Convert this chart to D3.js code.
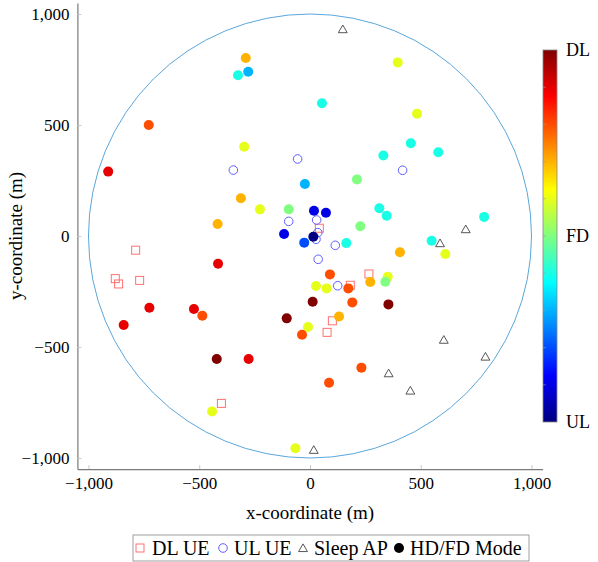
<!DOCTYPE html>
<html>
<head>
<meta charset="utf-8">
<script src="https://cdn.jsdelivr.net/npm/d3@7"></script>
<style>
  body { margin: 0; background: #fff; }
  svg, svg text { font-family: "Liberation Serif", "Times New Roman", serif; fill: #000; }
</style>
</head>
<body>
<div class="container"></div>
<script>
// HD/FD mode APs: x, y (m) and mode value (-1 = UL, 0 = FD, 1 = DL)
const hdX = [-290, -325, -279, -728, -911, -297, -23, -312, -226, -96, -417, -117,
  396, 54, 483, 455, 331, 579, 212, 18, 72, 313, 346, 227, 786, 15, -26, 164, 406, 549, 611,
  90, 351, 272, 340, 27, 75, 173, 12, 191, 354, 131, -9, -36, 232, 86,
  -415, -725, -841, -524, -486, -105, -421, -277, -442, -66]
const hdY = [802, 724, 740, 500, 290, 402, 234, 170, 120, 120, 54, 9,
  782, 598, 551, 418, 363, 377, 255, 114, 105, 125, 91, 44, 86, -3, -30, -32, -73, -21, -81,
  -173, -183, -207, -206, -225, -236, -236, -296, -299, -308, -363, -410, -445, -593, -661,
  -125, -323, -401, -329, -359, -371, -554, -554, -790, -956]
const hdMode = [0.4, -0.2, -0.4, 0.6, 0.8, 0.2, -0.4, 0.4, 0.2, 0, 0.4, -0.8,
  0.2, -0.2, 0.2, -0.2, -0.2, -0.2, 0, -0.8, -0.8, -0.2, -0.2, 0, -0.2, -1, -0.6, -0.2, 0.4, -0.2, 0.2,
  0.6, 0.2, 0.4, 0, 0.2, 0.2, 0.6, 1, 0.6, 1, 0.4, 0.2, 0.6, 0.6, 0.6,
  0.8, 0.8, 0.8, 0.8, 0.6, 1, 1, 0.8, 0.2, 0.2]

// DL users
const dlX = [42, 266, 182, 101, 77, -787, -879, -864, -769, -400]
const dlY = [35, -171, -222, -382, -434, -64, -192, -216, -200, -754]
// UL users
const ulX = [-56, -346, -96, 418, 30, 35, 27, 114, 37, 125]
const ulY = [347, 297, 66, 296, 72, 15, -15, -42, -105, -224]
// sleeping APs
const sleepX = [148, 703, 587, 604, 792, 355, 453, 17]
const sleepY = [931, 30, -33, -468, -544, -619, -697, -964]

const axisTicks = [-1000, -500, 0, 500, 1000]
const cellRadius = 1000
const cbLabels = ['UL', 'FD', 'DL']
const legendNames = ['DL UE', 'UL UE', 'Sleep AP', 'HD/FD Mode']

const W = 598, H = 562
const plot = { left: 77.4, right: 542.6, top: 2.9, bottom: 469.1 }
const serif = '"Liberation Serif", "Times New Roman", serif'

const svg = d3.select('.container').append('svg')
  .attr('width', W).attr('height', H)
  .attr('font-family', serif)

const x = d3.scaleLinear().domain([-1050, 1050]).range([plot.left, plot.right])
const y = d3.scaleLinear().domain([-1050, 1050]).range([plot.bottom, plot.top])

// jet colormap
const jet = d3.scaleLinear()
  .domain([-1, -0.75, -0.25, 0.25, 0.75, 1])
  .range(['#000080', '#0000ff', '#00ffff', '#ffff00', '#ff0000', '#800000'])
  .interpolate(d3.interpolateRgb)

// cell boundary
svg.append('ellipse')
  .attr('cx', x(0)).attr('cy', y(0))
  .attr('rx', x(cellRadius) - x(0)).attr('ry', y(0) - y(cellRadius))
  .attr('fill', 'none').attr('stroke', '#5aa6db').attr('stroke-width', 1)

// axes
const fmt = d3.format(',')
const xAxis = svg.append('g')
  .attr('transform', `translate(0,${plot.bottom})`)
  .call(d3.axisBottom(x).tickValues(axisTicks).tickFormat(fmt).tickSizeInner(-4).tickSizeOuter(0).tickPadding(8))
const yAxis = svg.append('g')
  .attr('transform', `translate(${plot.left},0)`)
  .call(d3.axisLeft(y).tickValues(axisTicks).tickFormat(fmt).tickSizeInner(-4).tickSizeOuter(0).tickPadding(8))

;[xAxis, yAxis].forEach(g => {
  g.attr('font-family', serif).attr('font-size', 17)
  g.select('.domain').attr('stroke', '#7a7a7a').attr('stroke-width', 1.2)
  g.selectAll('.tick line').attr('stroke', '#c8c8c8')
  g.selectAll('.tick text').attr('fill', '#000')
})

svg.append('text')
  .attr('x', x(0)).attr('y', 519)
  .attr('text-anchor', 'middle')
  .style('font-size', '19px')
  .text('x-coordinate (m)')

svg.append('text')
  .attr('transform', `translate(22,${y(0)}) rotate(-90)`)
  .attr('text-anchor', 'middle')
  .style('font-size', '19px')
  .text('y-coordinate (m)')

// markers
svg.selectAll('.dl').data(dlX).enter().append('rect')
  .attr('class', 'dl')
  .attr('x', d => x(d) - 4).attr('y', (d, i) => y(dlY[i]) - 4)
  .attr('width', 8).attr('height', 8)
  .attr('fill', 'none').attr('stroke', '#ff7070').attr('stroke-width', 1)

svg.selectAll('.ul').data(ulX).enter().append('circle')
  .attr('class', 'ul')
  .attr('cx', d => x(d)).attr('cy', (d, i) => y(ulY[i]))
  .attr('r', 4.3)
  .attr('fill', 'none').attr('stroke', '#5f5fff').attr('stroke-width', 1)

const tri = d3.symbol().type(d3.symbolTriangle).size(34)
svg.selectAll('.sleep').data(sleepX).enter().append('path')
  .attr('class', 'sleep')
  .attr('d', tri)
  .attr('transform', (d, i) => `translate(${x(d)},${y(sleepY[i]) + 0.8})`)
  .attr('fill', 'none').attr('stroke', '#444').attr('stroke-width', 0.9)

svg.selectAll('.hd').data(hdX).enter().append('circle')
  .attr('class', 'hd')
  .attr('cx', d => x(d)).attr('cy', (d, i) => y(hdY[i]))
  .attr('r', 5)
  .attr('fill', (d, i) => jet(hdMode[i]))

// colorbar
const cb = { x: 543, w: 14, top: 50, bottom: 422 }
const cbScale = d3.scaleLinear().domain([-1, 1]).range([cb.bottom, cb.top])
const grad = svg.append('defs').append('linearGradient')
  .attr('id', 'jetgrad').attr('x1', 0).attr('y1', 1).attr('x2', 0).attr('y2', 0)
jet.domain().forEach(v => {
  grad.append('stop').attr('offset', (v + 1) / 2).attr('stop-color', jet(v))
})
svg.append('rect')
  .attr('x', cb.x).attr('y', cb.top)
  .attr('width', cb.w).attr('height', cb.bottom - cb.top)
  .attr('fill', 'url(#jetgrad)')
  .attr('stroke', '#888').attr('stroke-width', 0.8)

svg.selectAll('.cbtick').data(d3.range(-0.8, 0.81, 0.2)).enter().append('line')
  .attr('class', 'cbtick')
  .attr('x1', cb.x).attr('x2', cb.x + 3)
  .attr('y1', d => cbScale(d)).attr('y2', d => cbScale(d))
  .attr('stroke', '#999').attr('stroke-opacity', 0.6)

svg.selectAll('.cblabel').data(cbLabels).enter().append('text')
  .attr('class', 'cblabel')
  .attr('x', cb.x + cb.w + 9)
  .attr('y', (d, i) => cbScale(i - 1))
  .attr('dy', '0.35em')
  .style('font-size', '18px')
  .text(d => d)

// legend
const lg = svg.append('g').attr('transform', 'translate(133,535)')
lg.append('rect').attr('width', 396).attr('height', 26)
  .attr('fill', '#fff').attr('stroke', '#888').attr('stroke-width', 0.8)
const lgX = [7, 90, 170, 266]
lg.append('rect').attr('x', lgX[0] - 4).attr('y', 9).attr('width', 8).attr('height', 8)
  .attr('fill', 'none').attr('stroke', '#ff7070')
lg.append('circle').attr('cx', lgX[1]).attr('cy', 13).attr('r', 4.3)
  .attr('fill', 'none').attr('stroke', '#5f5fff')
lg.append('path').attr('d', tri).attr('transform', `translate(${lgX[2]},14)`)
  .attr('fill', 'none').attr('stroke', '#444').attr('stroke-width', 0.9)
lg.append('circle').attr('cx', lgX[3]).attr('cy', 13).attr('r', 5).attr('fill', '#000')
lg.selectAll('.lgtext').data(legendNames).enter().append('text')
  .attr('class', 'lgtext')
  .attr('x', (d, i) => lgX[i] + (i === 0 ? 12 : 11))
  .attr('y', 13).attr('dy', '0.35em')
  .style('font-size', '20px')
  .text(d => d)
</script>
</body>
</html>
